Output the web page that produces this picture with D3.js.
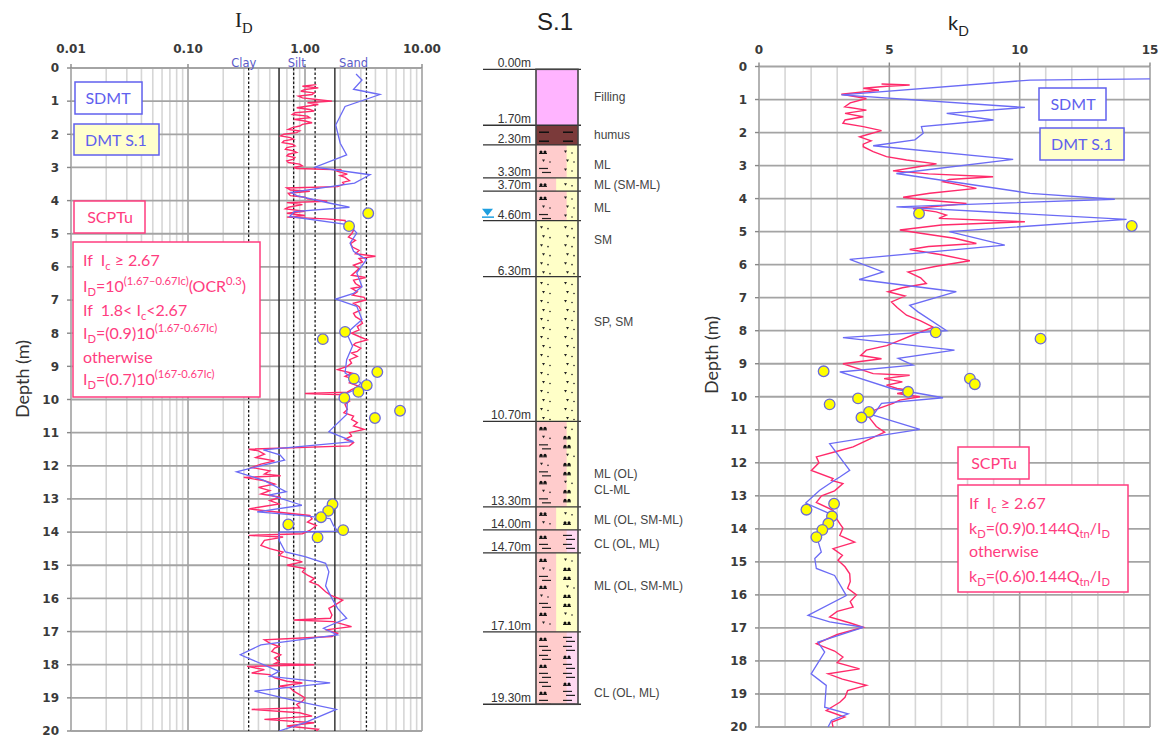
<!DOCTYPE html>
<html>
<head>
<meta charset="utf-8">
<script src="https://cdn.jsdelivr.net/npm/d3@7"></script>
<style>
  body { margin: 0; background: #fff; }
  svg { display: block; }
  text { white-space: pre; }
</style>
</head>
<body>
<svg id="chart" width="1163" height="738"></svg>
<script>
// ---------- data ----------
// I_D panel (log scale), [depth m, I_D]
const idScptu = [[0.5,1.25],[0.55,0.95],[0.6,1.3],[0.65,1.0],[0.7,0.92],[0.75,1.2],[0.8,1.15],[0.85,0.88],[0.9,0.95],[0.95,1.25],[1.0,1.7],[1.05,1.05],[1.1,1.3],[1.2,0.85],[1.25,1.1],[1.3,1.2],[1.35,0.82],[1.4,0.78],[1.45,1.05],[1.5,1.1],[1.55,0.8],[1.6,1.0],[1.65,1.15],[1.7,0.95],[1.75,0.9],[1.8,0.78],[1.85,0.72],[1.9,0.9],[1.95,0.85],[2.0,0.66],[2.05,0.62],[2.1,0.75],[2.15,0.8],[2.2,0.66],[2.25,0.64],[2.3,0.78],[2.35,0.82],[2.4,0.7],[2.45,0.68],[2.5,0.8],[2.55,0.85],[2.6,0.72],[2.65,0.7],[2.7,0.82],[2.75,0.8],[2.8,0.7],[2.85,0.72],[2.9,0.9],[2.95,0.95],[3.0,0.8],[3.03,0.85],[3.07,2.05],[3.12,1.9],[3.2,2.3],[3.25,2.0],[3.3,2.2],[3.4,2.4],[3.45,2.1],[3.5,2.15],[3.58,1.9],[3.62,0.7],[3.68,0.75],[3.72,1.1],[3.78,0.72],[3.85,0.75],[3.9,1.0],[3.95,1.05],[4.02,1.55],[4.06,0.7],[4.12,0.95],[4.2,0.72],[4.25,0.68],[4.32,1.0],[4.38,0.7],[4.45,1.0],[4.5,0.7],[4.55,1.5],[4.6,2.2],[4.7,2.25],[4.8,2.45],[4.9,2.6],[5.0,2.5],[5.1,2.35],[5.2,2.7],[5.3,2.45],[5.4,2.55],[5.5,2.9],[5.6,2.7],[5.68,4.0],[5.75,2.9],[5.85,3.1],[5.95,2.6],[6.05,2.9],[6.15,2.7],[6.25,2.5],[6.32,3.3],[6.4,2.6],[6.5,2.7],[6.6,3.0],[6.65,2.5],[6.75,2.8],[6.85,2.55],[6.92,3.2],[7.0,3.3],[7.1,2.6],[7.2,2.9],[7.3,3.0],[7.4,2.6],[7.5,2.7],[7.6,3.0],[7.7,3.1],[7.8,2.8],[7.9,2.9],[8.0,2.5],[8.1,2.9],[8.2,3.4],[8.3,2.7],[8.35,2.6],[8.45,3.0],[8.55,2.8],[8.6,2.5],[8.7,2.8],[8.8,2.4],[8.9,2.5],[9.0,2.3],[9.1,1.9],[9.2,2.5],[9.3,2.2],[9.4,2.7],[9.5,2.4],[9.6,2.9],[9.7,2.5],[9.78,2.3],[9.82,1.0],[9.86,2.2],[9.95,2.0],[10.05,2.4],[10.15,2.2],[10.3,2.3],[10.4,2.15],[10.5,2.6],[10.6,2.5],[10.7,2.8],[10.8,2.6],[10.9,3.2],[11.0,2.4],[11.1,2.5],[11.2,2.2],[11.3,2.6],[11.4,2.4],[11.5,0.33],[11.55,0.4],[11.65,0.45],[11.75,0.38],[11.85,0.55],[11.95,0.42],[12.05,0.35],[12.15,0.5],[12.25,0.45],[12.3,0.62],[12.35,0.3],[12.45,0.45],[12.55,0.55],[12.65,0.4],[12.75,0.5],[12.85,0.42],[12.95,0.62],[13.05,0.5],[13.15,0.6],[13.3,0.33],[13.4,0.6],[13.5,1.1],[13.6,1.15],[13.7,1.05],[13.8,1.25],[13.95,1.1],[14.05,0.95],[14.1,0.33],[14.15,0.65],[14.25,0.45],[14.4,0.42],[14.5,0.5],[14.6,0.65],[14.7,0.6],[14.8,0.75],[14.9,0.95],[15.0,0.7],[15.1,1.0],[15.2,0.95],[15.3,1.05],[15.4,1.2],[15.5,1.1],[15.6,1.3],[15.7,1.4],[15.8,1.5],[15.9,1.65],[16.05,2.1],[16.2,1.8],[16.3,1.6],[16.5,1.7],[16.6,1.65],[16.65,0.8],[16.7,1.75],[16.85,2.5],[16.95,1.5],[17.05,1.9],[17.15,1.7],[17.25,0.45],[17.35,0.5],[17.45,0.6],[17.5,0.55],[17.6,0.52],[17.7,0.62],[17.8,0.55],[17.9,0.6],[17.97,0.55],[18.0,1.2],[18.05,0.32],[18.15,0.45],[18.25,0.35],[18.3,0.5],[18.4,0.55],[18.5,0.7],[18.55,0.95],[18.65,0.6],[18.7,0.75],[18.8,0.8],[18.9,0.9],[19.0,1.0],[19.1,0.95],[19.2,0.85],[19.3,0.9],[19.35,0.35],[19.45,0.9],[19.55,1.15],[19.65,0.45],[19.75,1.2],[19.85,0.7],[19.95,1.3],[20.0,1.25]];
const idSdmt = [[0.18,2.73],[0.36,3.07],[0.64,2.6],[0.8,4.37],[1.16,2.2],[1.72,1.83],[2.27,2.0],[2.62,2.27],[2.99,1.22],[3.22,3.6],[3.47,2.65],[3.75,0.76],[3.85,0.85],[4.08,1.64],[4.2,2.4],[4.33,0.81],[4.48,0.74],[4.73,2.4],[4.98,2.77],[5.28,2.43],[5.53,2.6],[5.78,3.35],[6.18,2.77],[6.59,3.07],[6.8,2.6],[6.97,1.83],[7.19,2.77],[7.59,3.07],[8.0,2.27],[8.39,2.55],[8.8,2.27],[9.2,2.2],[9.5,3.0],[9.7,2.7],[9.9,2.0],[10.1,2.3],[10.45,2.27],[10.97,1.6],[11.27,2.6],[11.52,0.44],[11.67,0.61],[11.83,0.67],[11.98,0.44],[12.18,0.26],[12.28,0.32],[12.43,0.44],[12.78,0.69],[12.88,0.5],[13.19,0.94],[13.39,0.39],[13.5,0.95],[13.59,1.64],[13.8,1.75],[13.97,1.9],[14.0,0.6],[14.24,0.6],[14.6,0.68],[14.74,1.0],[14.94,1.5],[15.2,1.6],[15.62,1.5],[16.0,1.7],[16.3,1.9],[16.6,2.27],[16.9,1.44],[17.1,1.9],[17.4,0.42],[17.7,0.28],[18.2,0.6],[18.35,0.5],[18.55,1.64],[18.8,0.37],[19.1,0.85],[19.35,1.85],[19.75,1.0],[20.0,0.6]];
const idDmt = [[4.38,3.47],[4.77,2.38],[7.96,2.2],[8.18,1.42],[9.17,4.15],[9.37,2.62],[9.57,3.37],[9.77,2.86],[9.95,2.17],[10.34,6.49],[10.56,3.96],[13.16,1.72],[13.36,1.58],[13.55,1.37],[13.77,0.72],[13.94,2.12],[14.16,1.28]];
const idTicks = [0.01, 0.1, 1, 10];
const idTickLabels = ["0.01", "0.10", "1.00", "10.00"];
const idBoundSolid = [0.6, 1.8];
const idBoundDotted = [0.33, 0.8, 1.22, 3.35];
const soilNames = ["Clay", "Silt", "Sand"];
const soilNameAt = [0.3, 0.85, 2.6];

// k_D panel, [depth m, k_D]
const kdScptu = [[0.53,4.7],[0.56,5.78],[0.6,4.9],[0.66,4.0],[0.72,4.6],[0.84,3.16],[0.97,4.12],[1.1,3.5],[1.22,3.29],[1.32,4.12],[1.42,3.3],[1.52,4.0],[1.62,3.3],[1.72,3.22],[1.82,4.0],[1.94,4.7],[2.05,4.2],[2.13,3.86],[2.25,4.3],[2.35,4.0],[2.43,4.0],[2.58,4.38],[2.73,4.89],[2.83,5.66],[2.95,6.81],[3.05,6.0],[3.16,5.14],[3.25,6.5],[3.34,8.98],[3.42,7.3],[3.49,7.06],[3.6,7.8],[3.69,8.34],[3.84,6.55],[3.96,5.53],[4.05,6.5],[4.15,7.96],[4.3,5.91],[4.4,6.8],[4.5,7.19],[4.6,6.9],[4.7,10.2],[4.8,7.0],[4.95,5.4],[5.05,6.2],[5.2,7.5],[5.36,8.34],[5.45,6.5],[5.54,5.78],[5.7,7.0],[5.88,8.09],[6.05,6.8],[6.22,5.72],[6.4,6.2],[6.57,6.42],[6.7,5.5],[6.82,4.95],[6.95,5.6],[7.13,5.08],[7.3,5.3],[7.53,5.66],[7.7,6.2],[7.89,6.68],[8.1,6.0],[8.29,5.4],[8.45,4.9],[8.59,4.12],[8.75,3.9],[8.85,4.7],[9.0,3.22],[9.15,3.8],[9.3,4.38],[9.35,5.78],[9.45,4.8],[9.55,5.5],[9.65,4.89],[9.75,5.3],[9.82,5.91],[9.9,5.3],[10.0,6.17],[10.1,5.4],[10.2,5.14],[10.35,4.6],[10.51,4.12],[10.7,4.3],[10.9,4.5],[11.07,4.82],[11.3,4.2],[11.52,3.61],[11.65,3.0],[11.82,2.2],[12.0,2.3],[12.23,2.01],[12.48,2.84],[12.53,2.78],[12.63,3.22],[12.85,2.9],[13.0,2.4],[13.2,2.2],[13.44,2.84],[13.6,2.9],[13.84,3.1],[13.98,3.22],[14.2,3.1],[14.4,3.67],[14.6,2.84],[14.8,3.2],[14.95,3.03],[15.15,3.3],[15.36,3.48],[15.6,3.5],[15.8,3.4],[16.0,3.74],[16.2,3.5],[16.37,3.61],[16.5,3.0],[16.67,2.71],[16.85,3.5],[16.98,4.0],[17.2,3.0],[17.48,2.2],[17.7,2.9],[17.88,3.22],[18.05,3.0],[18.24,3.86],[18.39,2.65],[18.55,3.2],[18.74,4.12],[18.9,3.4],[19.1,3.3],[19.25,3.1],[19.5,2.58],[19.7,3.29],[19.85,2.8],[20.0,2.84]];
const kdSdmt = [[0.37,15.5],[0.41,10.4],[0.86,3.16],[1.24,10.2],[1.42,7.2],[1.62,9.0],[1.82,6.23],[2.02,6.3],[2.22,5.98],[2.4,4.38],[2.81,9.75],[3.24,5.27],[3.84,10.4],[4.02,13.65],[4.25,5.27],[4.63,14.1],[5.0,7.3],[5.41,9.43],[5.84,3.48],[6.22,4.76],[6.45,3.84],[6.82,7.57],[7.23,5.78],[7.43,6.1],[8.0,7.2],[8.21,3.22],[8.59,7.5],[8.84,5.34],[9.04,5.91],[9.25,3.1],[9.75,5.08],[10.03,7.06],[10.2,4.7],[10.56,4.38],[10.99,6.17],[11.17,4.7],[11.42,2.71],[12.23,3.48],[12.43,3.1],[12.53,2.9],[12.83,2.33],[13.22,1.79],[13.54,2.71],[14.2,2.2],[14.7,2.39],[14.9,2.14],[15.2,2.2],[15.41,2.9],[16.02,3.35],[16.62,1.88],[16.82,2.71],[16.98,4.0],[17.43,2.26],[17.73,2.52],[18.39,2.0],[18.74,2.58],[19.4,2.52],[19.6,3.42],[19.8,2.78],[20.0,2.65]];
const kdDmt = [[4.45,6.14],[4.83,14.3],[8.05,6.78],[8.24,10.8],[9.23,2.48],[9.45,8.09],[9.62,8.28],[9.85,5.72],[10.05,3.8],[10.23,2.71],[10.46,4.22],[10.63,3.93],[13.24,2.88],[13.42,1.82],[13.62,2.8],[13.84,2.66],[14.03,2.43],[14.25,2.2]];
const kdTicks = [0, 5, 10, 15];

const depthTicks = d3.range(0, 21);

// borehole S.1 log
const layerTop    = [0, 1.7, 2.3, 3.3, 3.7, 4.6, 6.3, 10.7, 13.3, 14.0, 14.7, 17.1];
const layerBottom = [1.7, 2.3, 3.3, 3.7, 4.6, 6.3, 10.7, 13.3, 14.0, 14.7, 17.1, 19.3];
const layerName = [["Filling"], ["humus"], ["ML"], ["ML (SM-ML)"], ["ML"], ["SM"], ["SP, SM"],
                   ["ML (OL)", "CL-ML"], ["ML (OL, SM-ML)"], ["CL (OL, ML)"], ["ML (OL, SM-ML)"], ["CL (OL, ML)"]];
const layerNameDepth = [0.84, 2.0, 2.9, 3.51, 4.22, 5.19, 7.68, 12.3, 13.7, 14.43, 15.7, 18.95];
const layerSoilL = ["fill", "humus", "silt", "silt", "silt", "sand", "sand", "silt", "silt", "clay", "silt", "clay"];
const layerSoilR = ["fill", "humus", "sand", "sand", "sand", "sand", "sand", "sand", "sand", "clay", "sand", "clay"];
const layerShareL = [1, 1, 0.73, 0.48, 0.73, 1, 1, 0.73, 0.48, 0.73, 0.48, 0.73];
const waterTable = 4.6;

// ---------- styles ----------
const soilColor = { fill: "#ffb4ff", humus: "#7b3a3a", silt: "#ffcccc", clay: "#ffcccc", sand: "#ffffc8" };
const soilColorR = { fill: "#ffb4ff", humus: "#7b3a3a", silt: "#ffffc8", clay: "#ffd9f2", sand: "#ffffc8" };
const RED = "#ff2a6a", BLUE = "#6b6bf5", PINK = "#ff3d7f", LBLUE = "#6060ee";
const tickFont = "'DejaVu Sans', Verdana, sans-serif";
const bodyFont = "Lato, 'Open Sans', sans-serif";

const svg = d3.select("#chart");

// small helper for text with sub/superscripts
function richText(g, x, y, parts, size, color, family) {
  const t = g.append("text").attr("x", x).attr("y", y)
    .attr("font-size", size).attr("fill", color).attr("font-family", family || bodyFont);
  let cur = 0;
  parts.forEach(([s, mode]) => {
    const target = mode === "sub" ? size * 0.28 : mode === "sup" ? -size * 0.42 : 0;
    t.append("tspan").attr("dy", target - cur)
      .attr("font-size", mode ? size * 0.7 : size).text(s);
    cur = target;
  });
  return t;
}

function drawGrid(g, xs, ys, xTicks, isMajor, x0, x1, y0, y1) {
  g.selectAll(".vminor").data(xTicks.filter(v => !isMajor(v))).join("line")
    .attr("x1", d => xs(d)).attr("x2", d => xs(d)).attr("y1", y0).attr("y2", y1)
    .attr("stroke", "#d6d6d6").attr("stroke-width", 1.6);
  g.selectAll(".vmajor").data(xTicks.filter(isMajor)).join("line")
    .attr("x1", d => xs(d)).attr("x2", d => xs(d)).attr("y1", y0).attr("y2", y1)
    .attr("stroke", "#a0a0a0").attr("stroke-width", 1.6);
  g.selectAll(".hl").data(depthTicks).join("line")
    .attr("x1", x0).attr("x2", x1).attr("y1", d => ys(d)).attr("y2", d => ys(d))
    .attr("stroke", "#a4a4a4").attr("stroke-width", 1.8);
  // outer ticks
  g.append("g").selectAll("line").data(depthTicks).join("line")
    .attr("x1", x0 - 4).attr("x2", x0).attr("y1", d => ys(d)).attr("y2", d => ys(d))
    .attr("stroke", "#888").attr("stroke-width", 1.4);
  g.append("g").selectAll("text").data(depthTicks).join("text")
    .attr("x", x0 - 12).attr("y", d => ys(d)).attr("dy", "0.36em")
    .attr("text-anchor", "end").attr("font-family", tickFont).attr("font-weight", "bold")
    .attr("font-size", 12).attr("fill", "#3a3a3a").text(d => d);
}

// ================= I_D panel =================
const xL = d3.scaleLog().domain([0.01, 10]).range([71, 422]);
const yL = d3.scaleLinear().domain([0, 20]).range([68, 731]);
const gL = svg.append("g");
const isDecade = v => Math.abs(Math.log10(v) - Math.round(Math.log10(v))) < 1e-6;
drawGrid(gL, xL, yL, xL.ticks(), isDecade, 71, 422, 68, 731);

gL.append("g").selectAll("line").data(idTicks).join("line")
  .attr("x1", d => xL(d)).attr("x2", d => xL(d)).attr("y1", 64).attr("y2", 68)
  .attr("stroke", "#888").attr("stroke-width", 1.4);
gL.append("g").selectAll("text").data(idTicks).join("text")
  .attr("x", d => xL(d)).attr("y", 53).attr("text-anchor", "middle")
  .attr("font-family", tickFont).attr("font-weight", "bold").attr("font-size", 12)
  .attr("fill", "#3a3a3a").text((d, i) => idTickLabels[i]);

gL.append("g").selectAll("line").data(idBoundSolid).join("line")
  .attr("x1", d => xL(d)).attr("x2", d => xL(d)).attr("y1", 68).attr("y2", 731)
  .attr("stroke", "#1a1a1a").attr("stroke-width", 1.3);
gL.append("g").selectAll("line").data(idBoundDotted).join("line")
  .attr("x1", d => xL(d)).attr("x2", d => xL(d)).attr("y1", 68).attr("y2", 731)
  .attr("stroke", "#1a1a1a").attr("stroke-width", 1.3).attr("stroke-dasharray", "2.5,2");

gL.append("g").selectAll("text").data(soilNames).join("text")
  .attr("x", (d, i) => xL(soilNameAt[i])).attr("y", 67).attr("text-anchor", "middle")
  .attr("font-family", tickFont).attr("font-size", 11.5).attr("fill", "#5b5bc8").text(d => d);

svg.append("clipPath").attr("id", "clipL").append("rect")
  .attr("x", 71).attr("y", 68).attr("width", 351).attr("height", 663);
const lineL = d3.line().x(d => xL(d[1])).y(d => yL(d[0]));
const plotL = gL.append("g").attr("clip-path", "url(#clipL)");
plotL.append("path").datum(idScptu).attr("d", lineL).attr("fill", "none")
  .attr("stroke", RED).attr("stroke-width", 1.4);
plotL.append("path").datum(idSdmt).attr("d", lineL).attr("fill", "none")
  .attr("stroke", BLUE).attr("stroke-width", 1.3);
plotL.selectAll("circle").data(idDmt).join("circle")
  .attr("cx", d => xL(d[1])).attr("cy", d => yL(d[0])).attr("r", 5.3)
  .attr("fill", "#ffff00").attr("stroke", "#6b6bd8").attr("stroke-width", 1.3);

richText(svg, 235, 27, [["I", ""], ["D", "sub"]], 21, "#222", "'Liberation Serif', serif");
svg.append("text").attr("transform", "translate(29,379) rotate(-90)")
  .attr("text-anchor", "middle").attr("font-family", bodyFont).attr("font-size", 18)
  .attr("fill", "#333").text("Depth (m)");

// legend boxes, left
function box(x, y, w, h, stroke, fill) {
  svg.append("rect").attr("x", x).attr("y", y).attr("width", w).attr("height", h)
    .attr("fill", fill).attr("stroke", stroke).attr("stroke-width", 1.5);
}
function boxLabel(x, y, s, color) {
  svg.append("text").attr("x", x).attr("y", y).attr("text-anchor", "middle")
    .attr("font-family", bodyFont).attr("font-size", 16).attr("fill", color).text(s);
}
box(75, 82, 67, 32, LBLUE, "#fff"); boxLabel(108, 104, "SDMT", LBLUE);
box(74, 124, 85, 31, LBLUE, "#ffffcc"); boxLabel(116, 146, "DMT S.1", LBLUE);
box(74, 201, 71, 32, PINK, "#fff"); boxLabel(110, 223, "SCPTu", PINK);
box(73, 242, 187, 155, PINK, "#fff");
const fsz = 16;
richText(svg, 83, 266, [["If  I", ""], ["c", "sub"], [" ≥ 2.67", ""]], fsz, PINK);
richText(svg, 83, 292, [["I", ""], ["D", "sub"], ["=10", ""], ["(1.67–0.67Ic)", "sup"], ["(OCR", ""], ["0.3", "sup"], [")", ""]], fsz, PINK);
richText(svg, 83, 316, [["If  1.8< I", ""], ["c", "sub"], ["<2.67", ""]], fsz, PINK);
richText(svg, 83, 339, [["I", ""], ["D", "sub"], ["=(0.9)10", ""], ["(1.67-0.67Ic)", "sup"]], fsz, PINK);
richText(svg, 83, 363, [["otherwise", ""]], fsz, PINK);
richText(svg, 83, 385, [["I", ""], ["D", "sub"], ["=(0.7)10", ""], ["(167-0.67Ic)", "sup"]], fsz, PINK);

// ================= borehole column =================
const yM = d3.scaleLinear().domain([0, 20]).range([69.3, 727.3]);
const colX0 = 536, colX1 = 578;
const gM = svg.append("g");
svg.append("text").attr("x", 555).attr("y", 30).attr("text-anchor", "middle")
  .attr("font-family", "'Liberation Sans', Arial, sans-serif").attr("font-size", 24)
  .attr("fill", "#222").text("S.1");

layerTop.forEach((top, i) => {
  const y0 = yM(top), y1 = yM(layerBottom[i]);
  const xs = colX0 + (colX1 - colX0) * layerShareL[i];
  gM.append("rect").attr("x", colX0).attr("y", y0).attr("width", colX1 - colX0).attr("height", y1 - y0)
    .attr("fill", soilColorR[layerSoilR[i]]);
  gM.append("rect").attr("x", colX0).attr("y", y0).attr("width", xs - colX0).attr("height", y1 - y0)
    .attr("fill", soilColor[layerSoilL[i]]);
  // soil symbols, rows down the layer
  const syms = gM.append("g");
  const rows = d3.range(y0 + 7, y1 - 2, 9);
  rows.forEach((ry, r) => {
    [[colX0 + 8, layerSoilL[i]], [colX0 + 32, layerSoilR[i]]].forEach(([cx, soil], side) => {
      const kind = soil === "silt" ? ["silt", "sand", "clay"][(r + side) % 3]
                 : soil === "clay" ? ["silt", "clay", "clay"][(r + side) % 3]
                 : soil === "sand" ? ((i >= 7) ? ["silt", "sand", "silt"][(r + side) % 3] : "sand")
                 : soil;
      if (kind === "sand") {
        const ox = r % 2 ? 2 : 0;
        syms.append("path").attr("d", `M${cx - 4 + ox},${ry - 1.5}h3l-1.5,2.5z`).attr("fill", "#222");
        syms.append("circle").attr("cx", cx + 4 + ox).attr("cy", ry + 1).attr("r", 0.8).attr("fill", "#222");
      } else if (kind === "silt") {
        syms.append("circle").attr("cx", cx - 3).attr("cy", ry).attr("r", 1.5).attr("fill", "#111");
        syms.append("circle").attr("cx", cx + 1).attr("cy", ry).attr("r", 1.5).attr("fill", "#111");
        syms.append("line").attr("x1", cx - 5).attr("x2", cx + 3).attr("y1", ry + 1.5).attr("y2", ry + 1.5)
          .attr("stroke", "#111").attr("stroke-width", 1);
      } else if (kind === "clay") {
        syms.append("line").attr("x1", cx - 5).attr("x2", cx + 4).attr("y1", ry - 1.5).attr("y2", ry - 1.5)
          .attr("stroke", "#222").attr("stroke-width", 1.2);
        syms.append("line").attr("x1", cx - 2).attr("x2", cx + 7).attr("y1", ry + 2.5).attr("y2", ry + 2.5)
          .attr("stroke", "#222").attr("stroke-width", 1.2);
      } else if (kind === "humus") {
        syms.append("line").attr("x1", cx - 5).attr("x2", cx + 5).attr("y1", ry).attr("y2", ry)
          .attr("stroke", "#111").attr("stroke-width", 1.5);
      }
    });
  });
  // layer name
  layerName[i].forEach((s, k) => {
    gM.append("text").attr("x", 594).attr("y", yM(layerNameDepth[i]) + k * 16).attr("dy", "0.35em")
      .attr("font-family", "'Liberation Sans', Arial, sans-serif").attr("font-size", 12)
      .attr("fill", "#444").text(s);
  });
});

const bounds = layerTop.concat([layerBottom[layerBottom.length - 1]]);
gM.append("g").selectAll("line").data(bounds).join("line")
  .attr("x1", 483).attr("x2", 581).attr("y1", d => yM(d)).attr("y2", d => yM(d))
  .attr("stroke", "#333").attr("stroke-width", 1.3);
gM.append("g").selectAll("text").data(bounds).join("text")
  .attr("x", 531).attr("y", d => yM(d) - 2).attr("text-anchor", "end")
  .attr("font-family", "'Liberation Sans', Arial, sans-serif").attr("font-size", 12)
  .attr("fill", "#333").text(d => d.toFixed(2) + "m");
gM.append("rect").attr("x", colX0).attr("y", yM(0)).attr("width", colX1 - colX0)
  .attr("height", yM(layerBottom[layerBottom.length - 1]) - yM(0))
  .attr("fill", "none").attr("stroke", "#444").attr("stroke-width", 1.6);
// water table
const wy = yM(waterTable);
gM.append("path").attr("d", `M482,${wy - 12}h11l-5.5,7z`).attr("fill", "#1e9fe0");
gM.append("line").attr("x1", 482).attr("x2", 494).attr("y1", wy - 3.5).attr("y2", wy - 3.5)
  .attr("stroke", "#1e9fe0").attr("stroke-width", 1.5);

// ================= k_D panel =================
const xR = d3.scaleLinear().domain([0, 15]).range([759, 1150]);
const yR = d3.scaleLinear().domain([0, 20]).range([66.5, 727]);
const gR = svg.append("g");
drawGrid(gR, xR, yR, d3.range(0, 16), v => v % 5 === 0, 759, 1150, 66.5, 727);
gR.append("g").selectAll("text").data(kdTicks).join("text")
  .attr("x", d => xR(d)).attr("y", 54).attr("text-anchor", "middle")
  .attr("font-family", tickFont).attr("font-weight", "bold").attr("font-size", 12)
  .attr("fill", "#3a3a3a").text(d => d);
gR.append("g").selectAll("line").data(kdTicks).join("line")
  .attr("x1", d => xR(d)).attr("x2", d => xR(d)).attr("y1", 62.5).attr("y2", 66.5)
  .attr("stroke", "#888").attr("stroke-width", 1.4);

svg.append("clipPath").attr("id", "clipR").append("rect")
  .attr("x", 759).attr("y", 66.5).attr("width", 391).attr("height", 660.5);
const lineR = d3.line().x(d => xR(d[1])).y(d => yR(d[0]));
const plotR = gR.append("g").attr("clip-path", "url(#clipR)");
plotR.append("path").datum(kdScptu).attr("d", lineR).attr("fill", "none")
  .attr("stroke", RED).attr("stroke-width", 1.4);
plotR.append("path").datum(kdSdmt).attr("d", lineR).attr("fill", "none")
  .attr("stroke", BLUE).attr("stroke-width", 1.3);
plotR.selectAll("circle").data(kdDmt).join("circle")
  .attr("cx", d => xR(d[1])).attr("cy", d => yR(d[0])).attr("r", 5.3)
  .attr("fill", "#ffff00").attr("stroke", "#6b6bd8").attr("stroke-width", 1.3);

richText(svg, 948, 30, [["k", ""], ["D", "sub"]], 20, "#222");
svg.append("text").attr("transform", "translate(718,355) rotate(-90)")
  .attr("text-anchor", "middle").attr("font-family", bodyFont).attr("font-size", 18)
  .attr("fill", "#333").text("Depth (m)");

box(1039, 88, 67, 32, LBLUE, "#fff"); boxLabel(1073, 110, "SDMT", LBLUE);
box(1040, 128, 84, 32, LBLUE, "#ffffcc"); boxLabel(1082, 150, "DMT S.1", LBLUE);
box(958, 447, 71, 32, PINK, "#fff"); boxLabel(994, 469, "SCPTu", PINK);
box(958, 485, 170, 107, PINK, "#fff");
richText(svg, 969, 509, [["If  I", ""], ["c", "sub"], [" ≥ 2.67", ""]], fsz, PINK);
richText(svg, 969, 534, [["k", ""], ["D", "sub"], ["=(0.9)0.144Q", ""], ["tn", "sub"], ["/I", ""], ["D", "sub"]], fsz, PINK);
richText(svg, 969, 557, [["otherwise", ""]], fsz, PINK);
richText(svg, 969, 582, [["k", ""], ["D", "sub"], ["=(0.6)0.144Q", ""], ["tn", "sub"], ["/I", ""], ["D", "sub"]], fsz, PINK);
</script>
</body>
</html>
